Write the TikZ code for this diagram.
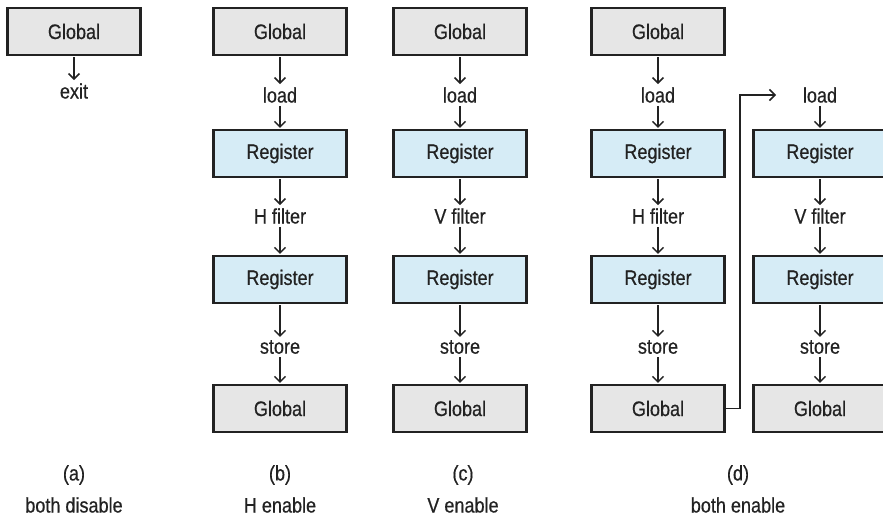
\documentclass[tikz,border=0pt]{standalone}
\usepackage{fontspec}
\setmainfont{Liberation Sans}[FakeStretch=0.86, FakeBold=0.5]
\usetikzlibrary{arrows.meta}
\definecolor{gfill}{HTML}{E6E6E6}
\definecolor{rfill}{HTML}{D6ECF6}
\definecolor{ink}{HTML}{222222}
\tikzset{
  base/.style={draw=ink, line width=2.2pt, minimum width=133pt, minimum height=47pt, inner sep=0pt, font=\fontsize{21}{23}\selectfont, text=ink},
  glob/.style={base, fill=gfill},
  reg/.style={base, fill=rfill},
  lbl/.style={inner sep=2pt, font=\fontsize{21}{23}\selectfont, text=ink},
  flow/.style={draw=ink, line width=1.5pt, shorten <=1pt, shorten >=1pt, -{Straight Barb[length=5.5pt,width=11pt,line width=1.5pt]}},
}
\begin{document}
\begin{tikzpicture}[x=1pt,y=-1pt]
\useasboundingbox (0,0) rectangle (883,522);

% (a) both disabled
\node[glob] (a1) at (74,31.5) {Global};
\node[lbl] (a2) at (74,91) {exit};
\draw[flow] (a1) -- (a2);

% one full pipeline column: name, x, middle label
\foreach \c/\x/\f in {b/280/H filter, c/460/V filter, d/658/H filter, e/820/V filter}{
  \node[lbl]  (\c2) at (\x,95) {load};
  \node[reg]  (\c3) at (\x,153.5) {Register};
  \node[lbl]  (\c4) at (\x,216) {\f};
  \node[reg]  (\c5) at (\x,279.5) {Register};
  \node[lbl]  (\c6) at (\x,347) {store};
  \node[glob] (\c7) at (\x,408.5) {Global};
  \draw[flow] (\c2) -- (\c3);
  \draw[flow] (\c3) -- (\c4);
  \draw[flow] (\c4) -- (\c5);
  \draw[flow] (\c5) -- (\c6);
  \draw[flow] (\c6) -- (\c7);
}
\foreach \c/\x in {b/280, c/460, d/658}{
  \node[glob] (\c1) at (\x,31.5) {Global};
  \draw[flow] (\c1) -- (\c2);
}

% second pass of (d): the stored result is loaded again
\coordinate (turn) at (740,0);
\coordinate (back) at (776,0);
\draw[flow, shorten <=0pt, shorten >=0pt] (d7.east) -| (turn |- e2) -- (back |- e2);

% captions
\node[lbl] at (74,475) {(a)};
\node[lbl] at (74,505) {both disable};
\node[lbl] at (280,475) {(b)};
\node[lbl] at (280,505) {H enable};
\node[lbl] at (463,475) {(c)};
\node[lbl] at (463,505) {V enable};
\node[lbl] at (738,475) {(d)};
\node[lbl] at (738,505) {both enable};
\end{tikzpicture}
\end{document}
